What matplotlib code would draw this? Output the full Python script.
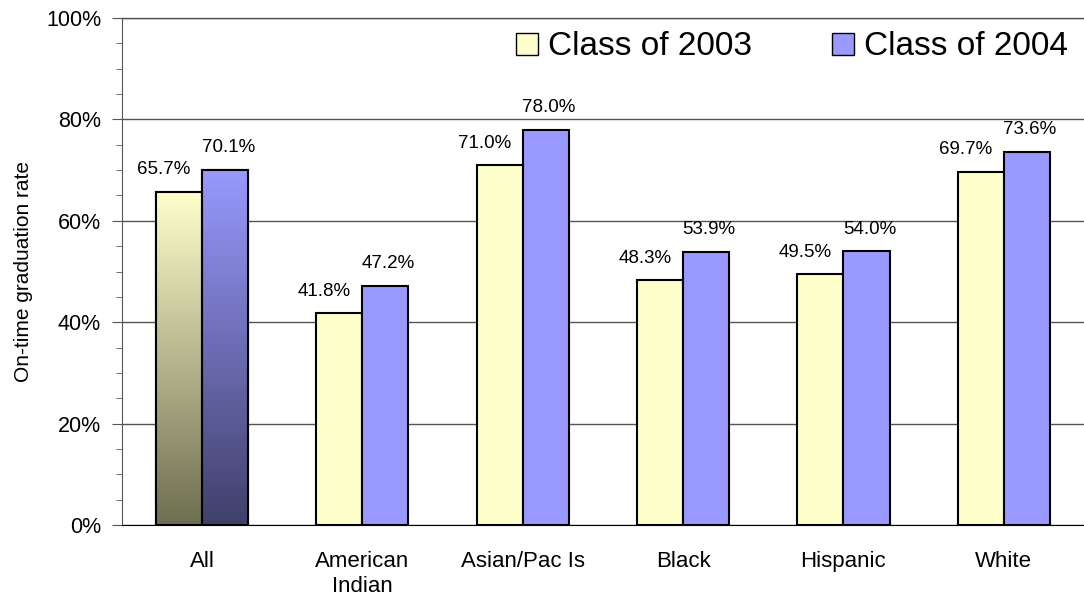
import numpy as np
import matplotlib
matplotlib.use('Agg')
import matplotlib.pyplot as plt
from matplotlib.colors import LinearSegmentedColormap
from matplotlib.patches import Patch
from matplotlib.ticker import MultipleLocator, FuncFormatter

plt.rcParams['font.family'] = ['Liberation Sans', 'DejaVu Sans']

groups = ['All', 'American\nIndian', 'Asian/Pac Is', 'Black', 'Hispanic', 'White']
class2003 = [65.7, 41.8, 71.0, 48.3, 49.5, 69.7]
class2004 = [70.1, 47.2, 78.0, 53.9, 54.0, 73.6]
series_names = ['Class of 2003', 'Class of 2004']

c03 = '#FFFFCC'
c04 = '#9999FF'
w = 0.287

fig = plt.figure(figsize=(10.84, 5.97), dpi=100)
ax = fig.add_axes([0.1125, 0.1206, 0.8875, 0.8492])

x = np.arange(len(groups))
b03 = ax.bar(x - w/2, class2003, w, color=c03, edgecolor='black', linewidth=1.5, zorder=3)
b04 = ax.bar(x + w/2, class2004, w, color=c04, edgecolor='black', linewidth=1.5, zorder=3)

# gradient fill on the "All" bars
grads = [(b03[0], '#FFFFCC', '#6E6E52'), (b04[0], '#9999FF', '#40406A')]
for bar, top, bot in grads:
    cmap = LinearSegmentedColormap.from_list('g', [bot, top])
    bx, by = bar.get_x(), bar.get_y()
    bw, bh = bar.get_width(), bar.get_height()
    grad = np.linspace(0, 1, 256).reshape(-1, 1)
    im = ax.imshow(grad, cmap=cmap, origin='lower', aspect='auto',
                   extent=[bx, bx + bw, by, by + bh], zorder=3.5)
    im.set_clip_path(bar)
    ax.bar(bx + bw/2, bh, bw, fill=False, edgecolor='black', linewidth=1.5, zorder=4)

for bars, vals, dx in [(b03, class2003, -15), (b04, class2004, 3)]:
    for bar, v in zip(bars, vals):
        ax.annotate('{:.1f}%'.format(v), (bar.get_x() + bar.get_width()/2, v),
                    xytext=(dx, 22), textcoords='offset pixels',
                    ha='center', va='center', fontsize=13.5)

ax.set_xlim(-0.5, len(groups) - 0.5)
ax.set_ylim(0, 100)
ax.set_xticks(x)
ax.set_xticklabels(groups, fontsize=16, linespacing=1.2)
ax.tick_params(axis='x', length=0, pad=19)
ax.yaxis.set_major_locator(MultipleLocator(20))
ax.yaxis.set_minor_locator(MultipleLocator(5))
ax.yaxis.set_major_formatter(FuncFormatter(lambda v, p: '{:.0f}%'.format(v)))
ax.tick_params(axis='y', which='major', length=7, labelsize=15.5, pad=8,
               direction='out', color='#555555')
ax.tick_params(axis='y', which='minor', length=4, direction='out', color='#555555')
ax.set_ylabel('On-time graduation rate', fontsize=15, labelpad=9)

ax.yaxis.grid(True, color='#555555', linewidth=1, zorder=0)
ax.set_axisbelow(True)
for s in ['top', 'right']:
    ax.spines[s].set_visible(False)
ax.spines['left'].set_color('#555555')
ax.spines['bottom'].set_color('black')
ax.spines['bottom'].set_zorder(5)
ax.axhline(100, color='#555555', linewidth=1, clip_on=False)

handles = [Patch(facecolor=c03, edgecolor='black'), Patch(facecolor=c04, edgecolor='black')]
ax.legend(handles, series_names, loc='center right', bbox_to_anchor=(0.983, 0.943), ncol=2,
          frameon=False, fontsize=24, handlelength=0.65, handleheight=0.65,
          handletextpad=0.3, columnspacing=2.4, borderpad=0, borderaxespad=0)

fig.savefig('out.png', dpi=100)
